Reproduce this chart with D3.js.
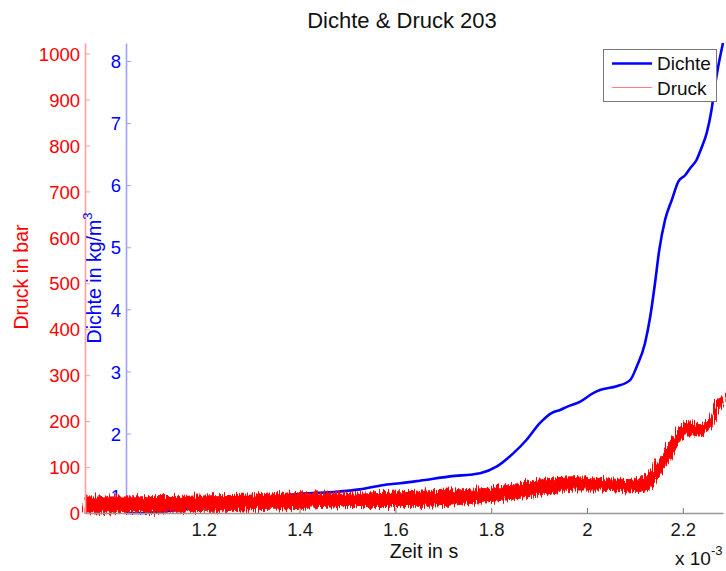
<!DOCTYPE html>
<html>
<head>
<meta charset="utf-8">
<script src="https://cdn.jsdelivr.net/npm/d3@7"></script>
<style>
body { margin: 0; background: #fff; }
svg { font-family: "Liberation Sans", Arial, sans-serif; }
</style>
</head>
<body>
<svg id="chart" width="726" height="571"></svg>
<script>
// Zeit in ms (x 10^-3 s)
var dichteZeit = [1.039, 1.075, 1.109, 1.171, 1.234, 1.338, 1.401, 1.477, 1.526, 1.582, 1.610, 1.651, 1.714, 1.777,
        1.812, 1.846, 1.874, 1.902, 1.926, 1.944, 1.958, 1.985, 2.013, 2.027, 2.062, 2.090, 2.104, 2.121, 2.132,
        2.142, 2.151, 2.163, 2.177, 2.191, 2.205, 2.215, 2.229, 2.239, 2.250, 2.260, 2.267, 2.274, 2.284],
    dichteWerte = [0.72, 0.72, 0.74, 0.79, 0.84, 0.96, 1.03, 1.06, 1.10, 1.18, 1.20, 1.24, 1.31, 1.36,
        1.47, 1.68, 1.90, 2.17, 2.33, 2.38, 2.43, 2.51, 2.65, 2.70, 2.76, 2.86, 3.08, 3.45, 3.88,
        4.42, 4.96, 5.44, 5.76, 6.06, 6.16, 6.27, 6.41, 6.60, 6.84, 7.21, 7.59, 7.91, 8.29];

var druckZeit = [0.952, 1.038, 1.190, 1.296, 1.401, 1.505, 1.610, 1.714, 1.797, 1.860, 1.923, 1.975, 2.027, 2.090,
        2.127, 2.152, 2.173, 2.190, 2.211, 2.236, 2.256, 2.273, 2.284],
    druckMin = [0, 1, 3, 7, 10, 14, 14, 17, 25, 32, 43, 50, 50, 46, 50, 83, 115, 148, 170, 170, 184, 217, 239],
    druckMax = [35, 35, 37, 39, 44, 43, 46, 50, 54, 65, 75, 79, 75, 73, 86, 122, 155, 181, 199, 192, 210, 246, 257];

var zeitTicks = [1.2, 1.4, 1.6, 1.8, 2, 2.2],
    druckTicks = [0, 100, 200, 300, 400, 500, 600, 700, 800, 900, 1000],
    dichteTicks = [1, 2, 3, 4, 5, 6, 7, 8];

var svg = d3.select("#chart"),
    plotLeft = 85, plotRight = 723, plotTop = 43, plotBottom = 513,
    blueAxisX = 126,
    tickFont = "Liberation Sans, Arial, sans-serif";

var x = d3.scaleLinear().domain([0.952, 2.284]).range([plotLeft, plotRight]),
    yDruck = d3.scaleLinear().domain([0, 1023]).range([plotBottom, plotTop]),
    yDichte = d3.scaleLinear().domain([0.72, 8.29]).range([plotBottom, plotTop]);

var dichte = dichteZeit.map(function(t, i) { return {t: t, v: dichteWerte[i]}; }),
    druck = druckZeit.map(function(t, i) { return {t: t, lo: druckMin[i], hi: druckMax[i]}; });

// rauer Rand fuer das Druckband (nur Darstellung)
var filter = svg.append("defs").append("filter")
    .attr("id", "rau")
    .attr("x", "-2%").attr("y", "-30%")
    .attr("width", "104%").attr("height", "160%");
filter.append("feTurbulence")
    .attr("type", "fractalNoise")
    .attr("baseFrequency", "0.9 0.04")
    .attr("numOctaves", 2)
    .attr("seed", 3)
    .attr("result", "noise");
filter.append("feDisplacementMap")
    .attr("in", "SourceGraphic")
    .attr("in2", "noise")
    .attr("scale", 12)
    .attr("xChannelSelector", "A")
    .attr("yChannelSelector", "R");

// Dichte-Achse (blau)
var gBlue = svg.append("g")
    .attr("transform", "translate(" + blueAxisX + ",0)")
    .call(d3.axisLeft(yDichte).tickValues(dichteTicks).tickSize(-5).tickSizeOuter(0).tickPadding(5));
gBlue.select(".domain").attr("stroke", "#a0a0ff").attr("stroke-width", 1.6);
gBlue.selectAll(".tick line").attr("stroke", "#a0a0ff");
gBlue.selectAll(".tick text")
    .attr("fill", "#0000ff")
    .attr("font-size", "18.5px")
    .attr("font-family", tickFont)
    .attr("dy", "0.36em");

svg.append("path")
    .datum(dichte)
    .attr("fill", "none")
    .attr("stroke", "#0000ff")
    .attr("stroke-width", 2.6)
    .attr("stroke-linejoin", "round")
    .attr("d", d3.line()
        .x(function(d) { return x(d.t); })
        .y(function(d) { return yDichte(d.v); })
        .curve(d3.curveMonotoneX));

// Druck (rot)
svg.append("path")
    .datum(druck)
    .attr("fill", "#ff0000")
    .attr("stroke", "#ff0000")
    .attr("stroke-width", 1)
    .attr("filter", "url(#rau)")
    .attr("d", d3.area()
        .x(function(d) { return x(d.t); })
        .y0(function(d) { return yDruck(d.lo); })
        .y1(function(d) { return yDruck(d.hi); })
        .curve(d3.curveMonotoneX));

var gRed = svg.append("g")
    .attr("transform", "translate(" + plotLeft + ",0)")
    .call(d3.axisLeft(yDruck).tickValues(druckTicks).tickFormat(d3.format("d")).tickSize(-5).tickSizeOuter(0).tickPadding(5));
gRed.select(".domain").attr("stroke", "#ffa0a0").attr("stroke-width", 1.6);
gRed.selectAll(".tick line").attr("stroke", "#ffa0a0");
gRed.selectAll(".tick text")
    .attr("fill", "#ff0000")
    .attr("font-size", "18.5px")
    .attr("font-family", tickFont)
    .attr("dy", "0.36em");

var gX = svg.append("g")
    .attr("transform", "translate(0," + plotBottom + ")")
    .call(d3.axisBottom(x).tickValues(zeitTicks).tickFormat(d3.format("")).tickSize(-5).tickSizeOuter(0).tickPadding(10));
gX.select(".domain").attr("stroke", "#999").attr("stroke-width", 1.4);
gX.selectAll(".tick line").attr("stroke", "#777");
gX.selectAll(".tick text")
    .attr("fill", "#1a1a1a")
    .attr("font-size", "18.5px")
    .attr("font-family", tickFont);

// Beschriftungen
svg.append("text")
    .attr("x", 402)
    .attr("y", 28)
    .attr("text-anchor", "middle")
    .attr("font-size", "22px")
    .attr("fill", "#111")
    .text("Dichte & Druck 203");

svg.append("text")
    .attr("x", 424)
    .attr("y", 558)
    .attr("text-anchor", "middle")
    .attr("font-size", "19.5px")
    .attr("fill", "#111")
    .text("Zeit in s");

var exp = svg.append("text")
    .attr("x", 675)
    .attr("y", 565)
    .attr("font-size", "19px")
    .attr("fill", "#111")
    .text("x 10");
exp.append("tspan")
    .attr("font-size", "13px")
    .attr("dy", -10)
    .text("-3");

svg.append("text")
    .attr("transform", "translate(28,277) rotate(-90)")
    .attr("text-anchor", "middle")
    .attr("font-size", "19.5px")
    .attr("fill", "#ff0000")
    .text("Druck in bar");

var dLabel = svg.append("text")
    .attr("transform", "translate(101,278) rotate(-90)")
    .attr("text-anchor", "middle")
    .attr("font-size", "19.5px")
    .attr("fill", "#0000ff")
    .text("Dichte in kg/m");
dLabel.append("tspan")
    .attr("font-size", "13px")
    .attr("dy", -9)
    .text("3");

// Legende
var legend = svg.append("g");
legend.append("rect")
    .attr("x", 603.5)
    .attr("y", 49.5)
    .attr("width", 113)
    .attr("height", 52)
    .attr("fill", "#fff")
    .attr("stroke", "#777");
legend.append("line")
    .attr("x1", 612).attr("x2", 652)
    .attr("y1", 63.5).attr("y2", 63.5)
    .attr("stroke", "#0000ff")
    .attr("stroke-width", 2.6);
legend.append("line")
    .attr("x1", 612).attr("x2", 652)
    .attr("y1", 87.5).attr("y2", 87.5)
    .attr("stroke", "#ff8080")
    .attr("stroke-width", 1);
legend.append("text")
    .attr("x", 657)
    .attr("y", 70)
    .attr("font-size", "19px")
    .attr("fill", "#111")
    .text("Dichte");
legend.append("text")
    .attr("x", 657)
    .attr("y", 95)
    .attr("font-size", "19px")
    .attr("fill", "#111")
    .text("Druck");
</script>
</body>
</html>
